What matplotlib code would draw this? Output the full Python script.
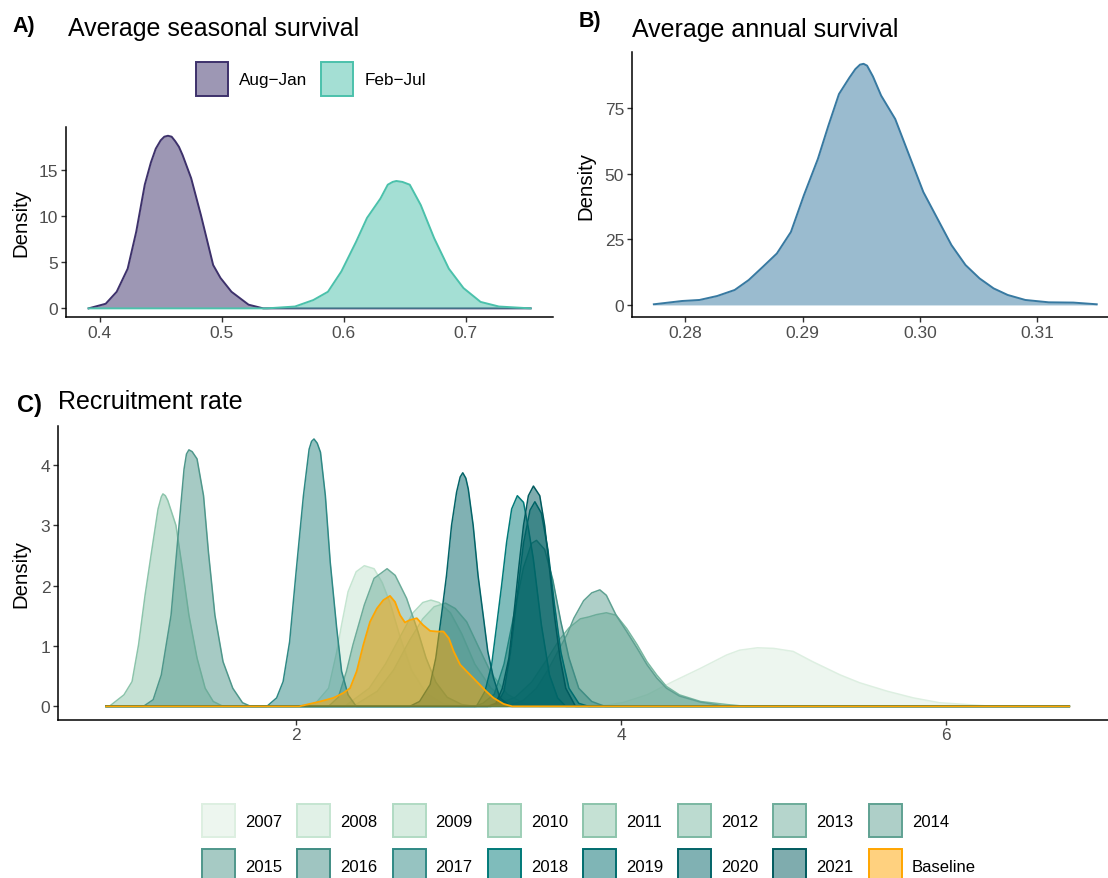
import matplotlib
matplotlib.use('Agg')
import matplotlib.pyplot as plt
import numpy as np
from matplotlib.patches import Patch
from matplotlib.colors import to_rgba

plt.rcParams['font.family'] = ['Liberation Sans', 'DejaVu Sans']

# ---- data ----
# A) seasonal survival densities
aug_jan_x = [0.391, 0.405, 0.414, 0.423, 0.430, 0.437, 0.442, 0.446, 0.450, 0.453, 0.456, 0.459,
             0.462, 0.465, 0.468, 0.475, 0.483, 0.493, 0.499, 0.508, 0.522, 0.534, 0.753]
aug_jan_y = [0.0, 0.5, 1.8, 4.3, 8.3, 13.4, 15.8, 17.3, 18.2, 18.6, 18.7, 18.6,
             18.1, 17.5, 16.6, 14.1, 10.1, 4.7, 3.3, 1.8, 0.4, 0.0, 0.0]
feb_jul_x = [0.391, 0.537, 0.560, 0.575, 0.587, 0.598, 0.610, 0.619, 0.630, 0.636, 0.640, 0.643,
             0.648, 0.654, 0.663, 0.674, 0.686, 0.698, 0.712, 0.727, 0.753]
feb_jul_y = [0.0, 0.0, 0.2, 0.9, 1.8, 4.0, 7.2, 9.8, 11.9, 13.4, 13.7, 13.8,
             13.7, 13.4, 11.2, 7.6, 4.3, 2.2, 0.7, 0.2, 0.0]
season_labels = ['Aug\u2212Jan', 'Feb\u2212Jul']

# B) annual survival density
annual_x = [0.2773, 0.2797, 0.2812, 0.2827, 0.2842, 0.2854, 0.2866, 0.2878, 0.2890, 0.2901,
            0.2913, 0.2922, 0.2931, 0.2940, 0.2945, 0.2949, 0.2952, 0.2955, 0.2960, 0.2967,
            0.2979, 0.2991, 0.3003, 0.3015, 0.3027, 0.3039, 0.3051, 0.3063, 0.3075, 0.3090,
            0.3110, 0.3131, 0.3151]
annual_y = [0.25, 1.5, 1.9, 3.4, 5.7, 9.5, 14.5, 19.6, 27.8, 41.7,
            55.6, 68.3, 80.3, 86.6, 89.8, 91.5, 91.8, 91.1, 87.0, 79.7,
            70.8, 56.9, 43.0, 32.9, 22.8, 15.2, 10.1, 6.3, 3.8, 1.9,
            1.0, 0.9, 0.25]

# C) recruitment rate densities, (x, density) pairs
rec_range = (0.83, 6.76)
rec_2007 = [(3.4, 0.0), (3.7, 0.01), (3.91, 0.02), (4.01, 0.06), (4.16, 0.19), (4.32, 0.41),
            (4.49, 0.63), (4.65, 0.85), (4.73, 0.93), (4.84, 0.97), (4.94, 0.96), (5.06, 0.91),
            (5.18, 0.74), (5.35, 0.52), (5.47, 0.39), (5.64, 0.25), (5.80, 0.14), (5.96, 0.06),
            (6.13, 0.03), (6.29, 0.0)]
rec_2008 = [(2.0, 0.0), (2.12, 0.05), (2.2, 0.3), (2.25, 0.9), (2.28, 1.35), (2.32, 1.9),
            (2.37, 2.23), (2.42, 2.33), (2.48, 2.28), (2.53, 2.05), (2.58, 1.7), (2.64, 1.15),
            (2.71, 0.6), (2.80, 0.22), (2.90, 0.05), (3.0, 0.0)]
rec_2009 = [(2.3, 0.0), (2.45, 0.3), (2.55, 0.7), (2.65, 1.2), (2.72, 1.55), (2.78, 1.72),
            (2.83, 1.76), (2.88, 1.72), (2.95, 1.55), (3.02, 1.2), (3.1, 0.7), (3.2, 0.3),
            (3.3, 0.1), (3.4, 0.0)]
rec_2010 = [(2.35, 0.0), (2.5, 0.25), (2.6, 0.6), (2.7, 1.1), (2.78, 1.45), (2.85, 1.65),
            (2.92, 1.71), (2.98, 1.62), (3.05, 1.4), (3.12, 1.0), (3.2, 0.55), (3.3, 0.2),
            (3.4, 0.05), (3.5, 0.0)]
rec_2011 = [(0.85, 0.0), (0.94, 0.19), (0.99, 0.41), (1.03, 1.02), (1.07, 1.84), (1.11, 2.56),
            (1.15, 3.27), (1.17, 3.47), (1.18, 3.52), (1.195, 3.49), (1.21, 3.41), (1.26, 3.0),
            (1.30, 2.28), (1.34, 1.51), (1.39, 0.80), (1.44, 0.30), (1.49, 0.08), (1.55, 0.0)]
rec_2012 = [(3.20, 0.0), (3.35, 0.15), (3.45, 0.4), (3.55, 0.8), (3.62, 1.1), (3.68, 1.3),
            (3.75, 1.45), (3.80, 1.48), (3.85, 1.52), (3.91, 1.55), (3.97, 1.51), (4.035, 1.29),
            (4.10, 1.02), (4.16, 0.74), (4.22, 0.52), (4.28, 0.33), (4.36, 0.19), (4.49, 0.08),
            (4.65, 0.03), (4.77, 0.0)]
rec_2013 = [(2.2, 0.0), (2.26, 0.15), (2.31, 0.58), (2.35, 1.02), (2.42, 1.68), (2.48, 2.12),
            (2.56, 2.28), (2.61, 2.17), (2.68, 1.79), (2.75, 1.24), (2.80, 0.8), (2.86, 0.4),
            (2.93, 0.15), (3.02, 0.03), (3.1, 0.0)]
rec_2014 = [(3.30, 0.0), (3.40, 0.1), (3.48, 0.3), (3.55, 0.6), (3.62, 0.95), (3.67, 1.2),
            (3.71, 1.46), (3.77, 1.75), (3.82, 1.88), (3.87, 1.93), (3.91, 1.84), (3.97, 1.51),
            (4.035, 1.24), (4.10, 0.96), (4.16, 0.69), (4.22, 0.47), (4.28, 0.30), (4.36, 0.17),
            (4.49, 0.07), (4.65, 0.0)]
rec_2015 = [(1.06, 0.0), (1.12, 0.11), (1.17, 0.52), (1.23, 1.51), (1.27, 2.72), (1.31, 3.93),
            (1.325, 4.18), (1.34, 4.25), (1.36, 4.22), (1.39, 4.10), (1.43, 3.49), (1.46, 2.56),
            (1.50, 1.51), (1.55, 0.74), (1.61, 0.30), (1.67, 0.06), (1.72, 0.0)]
rec_2016 = [(3.10, 0.0), (3.15, 0.05), (3.22, 0.2), (3.28, 0.7), (3.34, 1.5), (3.40, 2.3),
            (3.45, 2.7), (3.48, 2.75), (3.53, 2.6), (3.58, 2.1), (3.63, 1.4), (3.68, 0.8),
            (3.74, 0.3), (3.82, 0.08), (3.9, 0.0)]
rec_2017 = [(1.82, 0.0), (1.88, 0.14), (1.92, 0.41), (1.96, 1.07), (2.00, 2.23), (2.045, 3.49),
            (2.08, 4.26), (2.095, 4.39), (2.11, 4.43), (2.13, 4.36), (2.15, 4.21), (2.18, 3.49),
            (2.21, 2.39), (2.25, 1.29), (2.28, 0.58), (2.32, 0.19), (2.37, 0.0)]
rec_2018 = [(3.11, 0.0), (3.163, 0.25), (3.204, 0.69), (3.235, 1.35), (3.265, 2.0), (3.296, 2.72),
            (3.327, 3.27), (3.362, 3.49), (3.40, 3.38), (3.43, 2.95), (3.46, 2.45), (3.51, 1.35),
            (3.56, 0.52), (3.61, 0.14), (3.66, 0.0)]
rec_2019 = [(3.20, 0.0), (3.24, 0.05), (3.28, 0.25), (3.32, 0.9), (3.36, 1.8), (3.40, 2.7),
            (3.44, 3.25), (3.47, 3.39), (3.51, 3.2), (3.55, 2.6), (3.59, 1.7), (3.63, 0.9),
            (3.68, 0.3), (3.74, 0.05), (3.8, 0.0)]
rec_2020 = [(2.70, 0.0), (2.76, 0.08), (2.825, 0.36), (2.86, 0.80), (2.895, 1.51), (2.926, 2.17),
            (2.957, 3.0), (2.988, 3.55), (3.01, 3.80), (3.026, 3.87), (3.045, 3.78), (3.06, 3.6),
            (3.09, 3.0), (3.12, 2.17), (3.154, 1.46), (3.18, 0.91), (3.215, 0.47), (3.255, 0.14),
            (3.32, 0.0)]
rec_2021 = [(3.18, 0.0), (3.23, 0.05), (3.27, 0.3), (3.31, 0.80), (3.34, 1.51), (3.37, 2.28),
            (3.40, 3.0), (3.43, 3.49), (3.461, 3.65), (3.50, 3.49), (3.53, 3.0), (3.56, 2.28),
            (3.59, 1.51), (3.625, 0.80), (3.66, 0.3), (3.72, 0.0)]
rec_baseline = [(2.02, 0.0), (2.148, 0.08), (2.23, 0.14), (2.29, 0.22), (2.332, 0.30), (2.373, 0.58),
                (2.414, 1.02), (2.455, 1.40), (2.497, 1.62), (2.537, 1.76), (2.578, 1.83),
                (2.609, 1.73), (2.64, 1.51), (2.67, 1.39), (2.70, 1.43), (2.743, 1.46),
                (2.78, 1.35), (2.825, 1.25), (2.866, 1.24), (2.907, 1.24), (2.94, 1.13),
                (2.97, 0.91), (3.01, 0.69), (3.05, 0.58), (3.09, 0.47), (3.13, 0.36),
                (3.17, 0.25), (3.215, 0.14), (3.277, 0.04), (3.33, 0.0)]

rec_labels = ['2007', '2008', '2009', '2010', '2011', '2012', '2013', '2014',
              '2015', '2016', '2017', '2018', '2019', '2020', '2021', 'Baseline']
rec_curves = [rec_2007, rec_2008, rec_2009, rec_2010, rec_2011, rec_2012, rec_2013, rec_2014,
              rec_2015, rec_2016, rec_2017, rec_2018, rec_2019, rec_2020, rec_2021, rec_baseline]

# ---- styles ----
season_cols = ['#3d316b', '#4bc1ab']
annual_col = '#3779a1'
rec_cols = ['#ddefe1', '#c5e5d1', '#b0dac3', '#9ecfb7', '#8cc4ab', '#7bb8a2', '#6dac9a',
            '#5fa192', '#4f978b', '#408d84', '#2f8985', '#007a79', '#006d6f', '#036468',
            '#005a5e', '#ffa500']

W, H = 1108, 879
fig = plt.figure(figsize=(W / 100, H / 100), dpi=100)


def box(l, t, r, b):
    return [l / W, 1 - b / H, (r - l) / W, (b - t) / H]


def style(ax):
    for s in ['top', 'right']:
        ax.spines[s].set_visible(False)
    for s in ['left', 'bottom']:
        ax.spines[s].set_linewidth(1.1)
        ax.spines[s].set_color('black')
    ax.tick_params(length=3.5, width=1.0, color='#333333', labelcolor='#4d4d4d',
                   labelsize=12.5, pad=2)


def density(ax, x, y, col, z, lw):
    ax.fill_between(x, y, 0, color=col, alpha=0.5, linewidth=0, zorder=z)
    ax.plot(x, y, color=col, lw=lw, zorder=z + 0.5, solid_joinstyle='round')


# ---- A ----
axA = fig.add_axes(box(66, 128, 553, 318))
style(axA)
density(axA, aug_jan_x, aug_jan_y, season_cols[0], 1, 1.4)
density(axA, feb_jul_x, feb_jul_y, season_cols[1], 2, 1.4)
axA.set_xlim(0.3725, 0.7713)
axA.set_ylim(-0.935, 19.65)
axA.set_xticks([0.4, 0.5, 0.6, 0.7])
axA.set_yticks([0, 5, 10, 15])
hA = [Patch(facecolor=to_rgba(c, 0.5), edgecolor=c, linewidth=1.4) for c in season_cols]
fig.legend(hA, season_labels, ncol=2, loc='center', bbox_to_anchor=(311 / W, 1 - 80 / H),
           frameon=False, fontsize=12.3, handlelength=1.87, handleheight=2.6,
           handletextpad=0.65, columnspacing=0.8, borderpad=0)

# ---- B ----
axB = fig.add_axes(box(631.7, 53, 1119, 318))
style(axB)
density(axB, annual_x, annual_y, annual_col, 1, 1.4)
axB.set_xlim(0.27541, 0.317)
axB.set_ylim(-4.59, 96.3)
axB.set_xticks([0.28, 0.29, 0.30, 0.31])
axB.set_xticklabels(['0.28', '0.29', '0.30', '0.31'])
axB.set_yticks([0, 25, 50, 75])

# ---- C ----
axC = fig.add_axes(box(58, 426.7, 1118, 720.7))
style(axC)
for i, (curve, col) in enumerate(zip(rec_curves, rec_cols)):
    pts = np.array(curve)
    x = np.concatenate([[rec_range[0]], pts[:, 0], [rec_range[1]]])
    y = np.concatenate([[0.0], pts[:, 1], [0.0]])
    density(axC, x, y, col, i + 1, 1.3 if col == '#ffa500' else 1.1)
axC.set_xlim(0.534, 7.06)
axC.set_ylim(-0.2215, 4.65)
axC.set_xticks([2, 4, 6])
axC.set_yticks([0, 1, 2, 3, 4])

hC = [Patch(facecolor=to_rgba(c, 0.5), edgecolor=c, linewidth=1.4) for c in rec_cols]
order = [j for i in range(8) for j in (i, i + 8)]
fig.legend([hC[k] for k in order], [rec_labels[k] for k in order], ncol=8, loc='center',
           bbox_to_anchor=(589 / W, 1 - 844 / H), frameon=False, fontsize=12,
           handlelength=1.98, handleheight=2.67, handletextpad=0.6, columnspacing=0.9,
           labelspacing=0.72, borderpad=0)

# ---- texts ----
fig.text(12 / W, 1 - 31.7 / H, 'A)', fontsize=15.5, fontweight='bold', va='baseline')
fig.text(68 / W, 1 - 36 / H, 'Average seasonal survival', fontsize=18, va='baseline')
fig.text(579 / W, 1 - 27 / H, 'B)', fontsize=15.5, fontweight='bold', va='baseline')
fig.text(632 / W, 1 - 37 / H, 'Average annual survival', fontsize=18, va='baseline')
fig.text(17 / W, 1 - 411.7 / H, 'C)', fontsize=17, fontweight='bold', va='baseline')
fig.text(58 / W, 1 - 409 / H, 'Recruitment rate', fontsize=18, va='baseline')
for xp, yp in [(21, 223), (586, 186), (21, 574)]:
    fig.text(xp / W, 1 - yp / H, 'Density', fontsize=14.7, rotation=90, ha='center', va='center')

fig.savefig('out.png', dpi=100)
